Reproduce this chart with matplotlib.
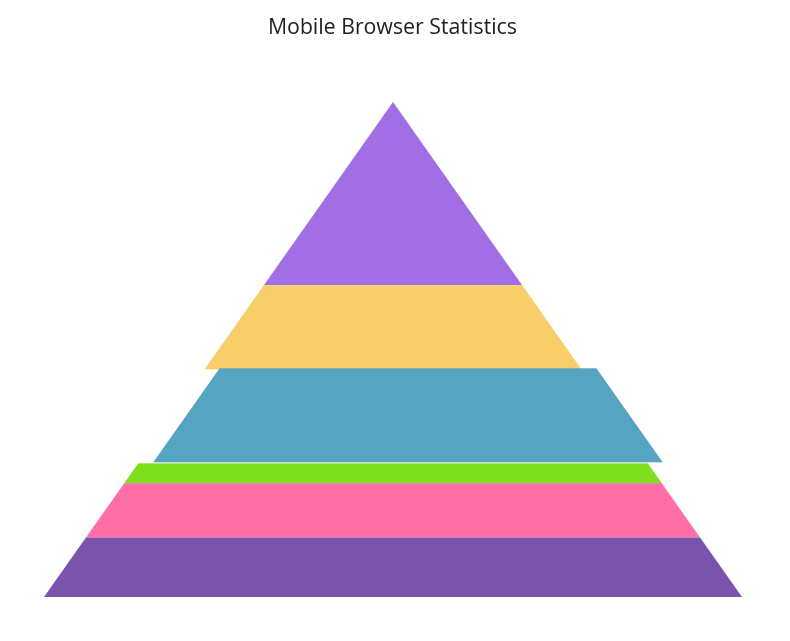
import matplotlib
matplotlib.use("Agg")
import matplotlib.pyplot as plt
from matplotlib.patches import Polygon

# data, top to bottom
browsers = ["Chrome", "UC Browser", "iPhone", "Others", "Opera", "Android"]
shares = [37, 17, 19, 4, 11, 12]
colors = ["#a16ee5", "#f7ce69", "#55a5c2", "#7ddf1e", "#ff6ea6", "#7953ac"]
exploded = "iPhone"

W, H = 790, 641
fig = plt.figure(figsize=(W / 100, H / 100), dpi=100)
ax = fig.add_axes([0, 0, 1, 1])
ax.set_xlim(0, W)
ax.set_ylim(H, 0)
ax.axis("off")

cx, top, bottom, half = 393, 102, 597, 349
total = sum(shares)
height = bottom - top


def half_width(y):
    return half * (y - top) / height


y0 = top
for name, val, col in zip(browsers, shares, colors):
    y1 = y0 + height * val / total
    dx, dy = (15, -1) if name == exploded else (0, 0)
    pts = [
        (cx - half_width(y0) + dx, y0 + dy),
        (cx + half_width(y0) + dx, y0 + dy),
        (cx + half_width(y1) + dx, y1 + dy),
        (cx - half_width(y1) + dx, y1 + dy),
    ]
    ax.add_patch(Polygon(pts, closed=True, facecolor=col, edgecolor="none"))
    y0 = y1

ax.text(cx, 28, "Mobile Browser Statistics", ha="center", va="center",
        fontsize=15.3, family="Open Sans", weight="medium", color="#212121")

fig.savefig("out.png", dpi=100)
